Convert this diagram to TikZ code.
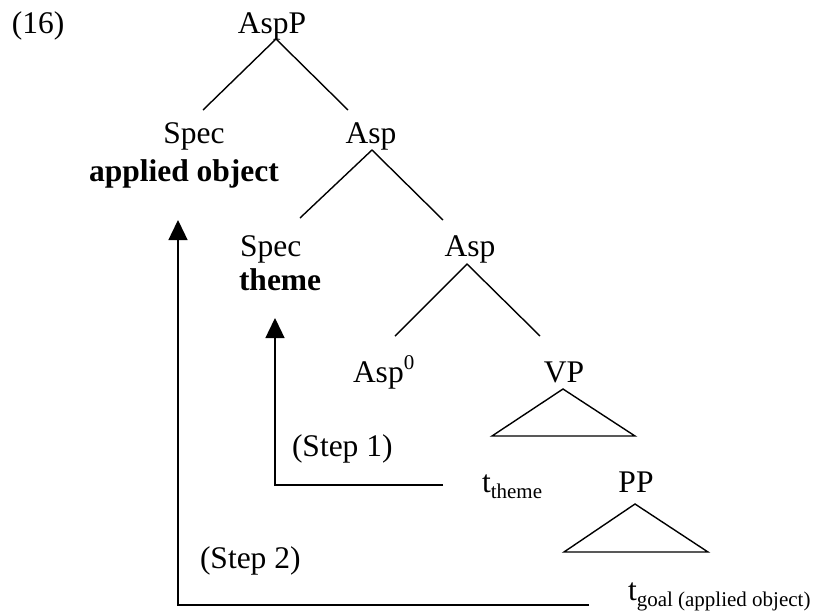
\documentclass[tikz,border=0pt]{standalone}
\usepackage{fontspec}
\setmainfont{Liberation Serif}
\usetikzlibrary{arrows.meta}
\newcommand\mysub[1]{\raisebox{-6pt}{\fontsize{21}{21}\selectfont #1}}
\newcommand\mysup[1]{\raisebox{13pt}{\fontsize{21}{21}\selectfont #1}}
\begin{document}
\begin{tikzpicture}[x=1pt,y=-1pt,
  lbl/.style={inner sep=0pt,outer sep=0pt,font=\fontsize{31.5}{36}\selectfont},
  edge/.style={line width=1.4pt},
  move/.style={line width=1.4pt,-{Triangle[length=20pt,width=19pt]}}]
\useasboundingbox (0,0) rectangle (814,611);
\fill[white] (0,0) rectangle (814,611);
% labels
\node[lbl,anchor=base west] (ex) at (12,33) {(16)};
\node[lbl,anchor=base] (aspp) at (272,33) {AspP};
\node[lbl,anchor=base] (spec1) at (194,143) {Spec};
\node[lbl,anchor=base] (ao) at (184,181) {\bfseries applied object};
\node[lbl,anchor=base] (asp1) at (371,143) {Asp};
\node[lbl,anchor=base west] (spec2) at (240,256) {Spec};
\node[lbl,anchor=base west] (theme) at (239,290) {\bfseries theme};
\node[lbl,anchor=base] (asp2) at (470,256) {Asp};
\node[lbl,anchor=base west] (asp0) at (353,382) {Asp\mysup{0}};
\node[lbl,anchor=base] (vp) at (564,382) {VP};
\node[lbl,anchor=base west] (step1) at (292,456) {(Step 1)};
\node[lbl,anchor=base west] (ttheme) at (482,492) {t\mysub{theme}};
\node[lbl,anchor=base] (pp) at (636,492) {PP};
\node[lbl,anchor=base west] (step2) at (200,568) {(Step 2)};
\node[lbl,anchor=base west] (tgoal) at (628,600) {t\mysub{goal (applied object)}};
% tree branch points
\coordinate (a0) at (276,39);
\coordinate (a1) at (203,110);
\coordinate (a2) at (348,110);
\coordinate (b0) at (372,150);
\coordinate (b1) at (300,218);
\coordinate (b2) at (443,220);
\coordinate (c0) at (467,264);
\coordinate (c1) at (395,336);
\coordinate (c2) at (540,336);
\draw[edge] (a1) -- (a0) -- (a2);
\draw[edge] (b1) -- (b0) -- (b2);
\draw[edge] (c1) -- (c0) -- (c2);
% triangles
\coordinate (vpt) at (563,389);
\coordinate (vpl) at (492,436);
\coordinate (vpr) at (635,436);
\draw[edge,line join=miter] (vpt) -- (vpl) -- (vpr) -- cycle;
\coordinate (ppt) at (635,504);
\coordinate (ppl) at (564,552);
\coordinate (ppr) at (708,552);
\draw[edge,line join=miter] (ppt) -- (ppl) -- (ppr) -- cycle;
% movement arrows
\coordinate (m1s) at (443,485);
\coordinate (m1c) at (275,485);
\coordinate (m1e) at (275,318);
\draw[move] (m1s) -- (m1c) -- (m1e);
\coordinate (m2s) at (589,605);
\coordinate (m2c) at (178,605);
\coordinate (m2e) at (178,220);
\draw[move] (m2s) -- (m2c) -- (m2e);
\end{tikzpicture}
\end{document}
